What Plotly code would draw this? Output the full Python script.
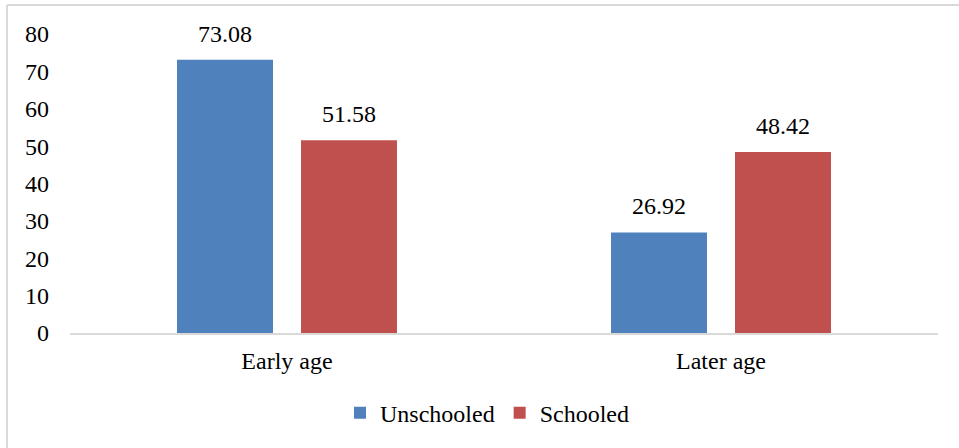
import plotly.graph_objects as go

categories = ["Early age", "Later age"]
unschooled = [73.08, 26.92]
schooled = [51.58, 48.42]
y_ticks = [0, 10, 20, 30, 40, 50, 60, 70, 80]

FONT = "'Liberation Serif', 'Times New Roman', Times, serif"
FS = 24

fig = go.Figure()
fig.add_trace(go.Bar(
    name="Unschooled", x=categories, y=unschooled,
    marker=dict(color="#4f81bd", line=dict(width=0)),
))
fig.add_trace(go.Bar(
    name="Schooled", x=categories, y=schooled,
    marker=dict(color="#c0504d", line=dict(width=0)),
))

# data labels above bars (offset by half the group spacing)
annotations = []
for series, dx in ((unschooled, -62), (schooled, 62)):
    for cat, v in zip(categories, series):
        annotations.append(dict(
            x=cat, y=v, xref="x", yref="y", text=f"{v:.2f}", showarrow=False,
            xanchor="center", yanchor="bottom", xshift=dx, yshift=11,
            font=dict(family=FONT, size=FS, color="#000000"),
        ))

fig.update_layout(
    width=959, height=448,
    margin=dict(l=70, r=21, t=34, b=115),
    paper_bgcolor="white", plot_bgcolor="white",
    barmode="group", bargap=0.4286, bargroupgap=0.226,
    font=dict(family=FONT, size=FS, color="#000000"),
    showlegend=True,
    legend=dict(orientation="h", x=0.4804, xanchor="center", y=-0.268, yanchor="middle",
                font=dict(family=FONT, size=FS), itemwidth=30),
    xaxis=dict(showline=True, linecolor="#d9d9d9", linewidth=2, ticks="",
               showgrid=False, ticklabelstandoff=5, tickfont=dict(family=FONT, size=FS)),
    yaxis=dict(range=[0, 80], tickvals=y_ticks, showgrid=False, zeroline=False,
               showline=False, ticks="", ticklabelstandoff=20,
               tickfont=dict(family=FONT, size=FS)),
    annotations=annotations,
    shapes=[
        dict(type="line", xref="paper", yref="paper", x0=-0.0726, x1=1.03, y0=1.097, y1=1.097,
             line=dict(color="#d9d9d9", width=2)),
        dict(type="line", xref="paper", yref="paper", x0=-0.0726, x1=-0.0726, y0=1.097, y1=-0.4,
             line=dict(color="#d9d9d9", width=2)),
    ],
)

fig.write_html("out.html")
